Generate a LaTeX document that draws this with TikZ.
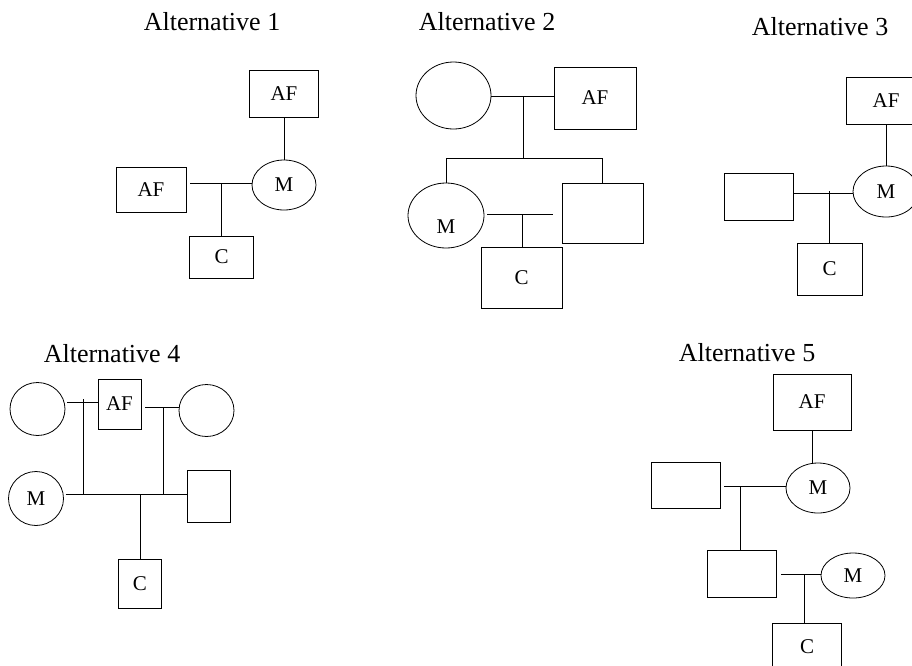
\documentclass[tikz,border=0pt]{standalone}
\usepackage{fontspec}
\setmainfont{Liberation Serif}
\usepackage{tikz}
\usetikzlibrary{shapes.geometric, positioning}

\begin{document}
\begin{tikzpicture}[x=1pt, y=-1pt, line width=0.8pt,
    box/.style={draw, rectangle, inner sep=0pt, outer sep=0pt, font=\fontsize{21}{24}\selectfont},
    person/.style={draw, ellipse, inner sep=0pt, outer sep=0pt, font=\fontsize{21}{24}\selectfont},
    title/.style={font=\fontsize{26}{30}\selectfont}]
       \clip (0,0) rectangle (912,665);

       % Alternative 1
       \node[title] (t1) at (212,22) {Alternative 1};
       \node[box, minimum width=69pt, minimum height=47pt] (af1a) at (284,93.5) {AF};
       \node[person, minimum width=64pt, minimum height=50pt] (m1) at (284,185) {M};
       \node[box, minimum width=70pt, minimum height=45pt] (af1b) at (151,189.5) {AF};
       \node[box, minimum width=64pt, minimum height=42pt] (c1) at (221.5,257) {C};
       \coordinate (j1) at (221.5,183);
       \draw (af1a) -- (m1);
       \draw[shorten <=4pt] (af1b.east |- j1) -- (m1.west |- j1);
       \draw (j1) -- (c1);

       % Alternative 2
       \node[title] (t2) at (487,22) {Alternative 2};
       \node[person, minimum width=75pt, minimum height=67pt] (p2) at (453.5,95.5) {};
       \node[box, minimum width=82pt, minimum height=62pt] (af2) at (595,98) {AF};
       \node[person, minimum width=76pt, minimum height=65pt,
             label={[yshift=-11pt, font=\fontsize{21}{24}\selectfont]center:M}] (m2) at (446,215.5) {};
       \node[box, minimum width=81pt, minimum height=60pt] (b2) at (602.5,213) {};
       \node[box, minimum width=81pt, minimum height=61pt] (c2) at (521.5,277.5) {C};
       \coordinate (j2a) at (523,96);
       \coordinate (j2b) at (523,158);
       \coordinate (j2c) at (522,214);
       \draw (p2.east |- j2a) -- (af2.west |- j2a);
       \draw (j2a) -- (j2b);
       \draw (m2.north) -- (m2.north |- j2b) -- (b2.north |- j2b) -- (b2.north);
       \draw[shorten <=3pt, shorten >=9pt] (m2.east |- j2c) -- (b2.west |- j2c);
       \draw (j2c) -- (j2c |- c2.north);

       % Alternative 3
       \node[title] (t3) at (820,27) {Alternative 3};
       \node[box, minimum width=80pt, minimum height=47pt] (af3) at (886,100.5) {AF};
       \node[person, minimum width=66pt, minimum height=51pt] (m3) at (886,191.5) {M};
       \node[box, minimum width=69pt, minimum height=47pt] (b3) at (758.5,196.5) {};
       \node[box, minimum width=65pt, minimum height=52pt] (c3) at (829.5,269) {C};
       \coordinate (j3) at (829.5,193);
       \draw (af3) -- (m3);
       \draw (b3.east |- j3) -- (m3.west |- j3);
       \draw ([yshift=2pt]j3) -- (c3);

       % Alternative 4
       \node[title] (t4) at (112,354) {Alternative 4};
       \node[person, minimum width=55pt, minimum height=53pt] (p4a) at (37.5,409) {};
       \node[box, minimum width=43pt, minimum height=50pt] (af4) at (119.5,404) {AF};
       \node[person, minimum width=55pt, minimum height=52pt] (p4b) at (206.5,410.5) {};
       \node[person, minimum width=55pt, minimum height=54pt] (m4) at (36,498.5) {M};
       \node[box, minimum width=43pt, minimum height=52pt] (b4) at (208.5,496) {};
       \node[box, minimum width=43pt, minimum height=49pt] (c4) at (140,583.5) {C};
       \coordinate (t4a) at (83,402);
       \coordinate (t4b) at (163,407);
       \coordinate (j4a) at (83,494);
       \coordinate (j4b) at (163,494);
       \coordinate (j4c) at (140,494);
       \draw[shorten <=2pt] (p4a.east |- t4a) -- (af4.west |- t4a);
       \draw[shorten <=4pt] (af4.east |- t4b) -- (p4b.west |- t4b);
       \draw ([yshift=3pt]t4a) -- (j4a);
       \draw (t4b) -- (j4b);
       \draw[shorten <=2pt] (m4.east |- j4a) -- (b4.west |- j4a);
       \draw (j4c) -- (c4);

       % Alternative 5
       \node[title] (t5) at (747,353) {Alternative 5};
       \node[box, minimum width=78pt, minimum height=56pt] (af5) at (812,402) {AF};
       \node[person, minimum width=64pt, minimum height=50pt] (m5a) at (818,488) {M};
       \node[box, minimum width=69pt, minimum height=46pt] (b5a) at (685.5,485) {};
       \node[box, minimum width=69pt, minimum height=47pt] (b5b) at (741.5,573.5) {};
       \node[person, minimum width=64pt, minimum height=45pt] (m5b) at (853,575.5) {M};
       \node[box, minimum width=69pt, minimum height=48pt] (c5) at (807,647) {C};
       \coordinate (j5a) at (740,486);
       \coordinate (j5b) at (804,574);
       \draw (af5.south) -- (af5.south |- m5a.north);
       \draw[shorten <=4pt] (b5a.east |- j5a) -- (m5a.west |- j5a);
       \draw (j5a) -- (j5a |- b5b.north);
       \draw[shorten <=5pt] (b5b.east |- j5b) -- (m5b.west |- j5b);
       \draw (j5b) -- (j5b |- c5.north);
\end{tikzpicture}
\end{document}
